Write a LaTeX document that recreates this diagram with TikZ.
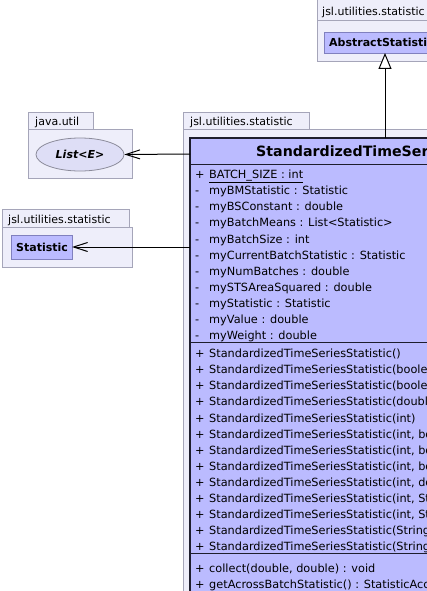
\documentclass[tikz,border=0pt]{standalone}
\usepackage{fontspec}
\setmainfont{DejaVu Sans}
\usetikzlibrary{arrows.meta,shapes.geometric}
\definecolor{pkgfill}{RGB}{238,238,250}
\definecolor{pkgline}{RGB}{165,165,185}
\definecolor{clsfill}{RGB}{187,187,255}
\definecolor{clsline}{RGB}{128,128,190}
\definecolor{ellfill}{RGB}{222,222,246}
\definecolor{ellline}{RGB}{140,140,155}
\definecolor{mainline}{RGB}{30,30,45}
\tikzset{
  pkg/.style={draw=pkgline, fill=pkgfill, line width=0.9pt},
  cls/.style={draw=clsline, fill=clsfill, line width=0.9pt},
  txt/.style={inner sep=0pt, anchor=base west, font=\fontsize{11}{13}\selectfont},
  row/.style={inner sep=0pt, anchor=base west, font=\fontsize{11.3}{13}\selectfont},
  bold/.style={txt, font=\fontsize{11}{13}\selectfont\bfseries},
  sep/.style={draw=mainline, line width=0.9pt},
  dep/.style={draw=black, line width=1pt, -{Straight Barb[length=14pt,width=9pt,line width=1pt]}},
  inh/.style={draw=black, line width=1pt, -{Triangle[length=16pt,width=13pt,fill=white,line width=1pt]}},
}
\begin{document}
\begin{tikzpicture}[x=1pt,y=-1pt]
\useasboundingbox (0,0) rectangle (427,591);
\clip (0,0) rectangle (427,591);
\fill[white] (0,0) rectangle (427,591);

% top-right package
\draw[pkg] (317,-1) rectangle (440,20);
\draw[pkg] (317,20) rectangle (440,61);
\node[txt] (tabA) at (322,16) {jsl.utilities.statistic};
\draw[cls] (324,32) rectangle (440,53);
\coordinate (absBot) at (385,53);
\node[bold] (abs) at (329,46.5) {AbstractStatistic};

% java.util package
\draw[pkg] (28,112) rectangle (93,129);
\draw[pkg] (28,129) rectangle (132,178);
\node[txt] (tabB) at (35,125) {java.util};
\node[ellipse, draw=ellline, fill=ellfill, line width=0.8pt, minimum width=88pt, minimum height=33pt, inner sep=0pt,
      font=\fontsize{11}{13}\selectfont\bfseries\itshape] (list) at (80,154.5) {List<E>};

% Statistic package
\draw[pkg] (2,209) rectangle (129,227);
\draw[pkg] (2,227) rectangle (132,267);
\node[txt] (tabC) at (8,223) {jsl.utilities.statistic};
\draw[cls] (11,235) rectangle (72,259);
\coordinate (statR) at (72,247);
\node[bold] (stat) at (16,251) {Statistic};

% main package
\draw[pkg] (183,112) rectangle (309,129);
\draw[pkg] (183,129) rectangle (450,620);
\node[txt] (tabD) at (190,125) {jsl.utilities.statistic};

% main class
\fill[clsfill] (190,138) rectangle (450,620);
\draw[mainline, line width=1.3pt] (190,620) -- (190,138) -- (450,138);
\draw[sep] (190,164) -- (450,164);
\draw[sep] (190,342.7) -- (450,342.7);
\draw[sep] (190,553.3) -- (450,553.3);
\coordinate (mainTop) at (385,138);
\coordinate (mainL1) at (190,154);
\coordinate (mainL2) at (190,247);
\node[txt, anchor=base west, font=\fontsize{14.2}{16}\selectfont\bfseries] (title) at (256,156.5) {StandardizedTimeSeriesStatistic};

% attributes
\foreach \i/\v/\t in {0/+/{\underline{BATCH\_SIZE : int}},
  1/-/{myBMStatistic : Statistic},
  2/-/{myBSConstant : double},
  3/-/{myBatchMeans : List<Statistic>},
  4/-/{myBatchSize : int},
  5/-/{myCurrentBatchStatistic : Statistic},
  6/-/{myNumBatches : double},
  7/-/{mySTSAreaSquared : double},
  8/-/{myStatistic : Statistic},
  9/-/{myValue : double},
  10/-/{myWeight : double}} {
  \node[row] (av\i) at (195,178.6+16.1*\i) {\v};
  \node[row] (at\i) at (209,178.6+16.1*\i) {\t};
}

% constructors
\foreach \i/\t in {0/{StandardizedTimeSeriesStatistic()},
  1/{StandardizedTimeSeriesStatistic(boolean)},
  2/{StandardizedTimeSeriesStatistic(boolean, boolean)},
  3/{StandardizedTimeSeriesStatistic(double)},
  4/{StandardizedTimeSeriesStatistic(int)},
  5/{StandardizedTimeSeriesStatistic(int, boolean)},
  6/{StandardizedTimeSeriesStatistic(int, boolean, boolean)},
  7/{StandardizedTimeSeriesStatistic(int, boolean, double)},
  8/{StandardizedTimeSeriesStatistic(int, double)},
  9/{StandardizedTimeSeriesStatistic(int, String)},
  10/{StandardizedTimeSeriesStatistic(int, String, boolean)},
  11/{StandardizedTimeSeriesStatistic(String)},
  12/{StandardizedTimeSeriesStatistic(String, boolean)}} {
  \node[row] (cv\i) at (195,357.8+16.06*\i) {+};
  \node[row] (ct\i) at (209,357.8+16.06*\i) {\t};
}

% methods
\node[row] (mv0) at (195,572.8) {+};
\node[row] (mt0) at (209,572.8) {collect(double, double) : void};
\node[row] (mv1) at (195,588.8) {+};
\node[row] (mt1) at (209,588.8) {getAcrossBatchStatistic() : StatisticAccessorIfc};

% connectors
\draw[inh] (mainTop) -- (absBot);
\draw[dep] (mainL1) -- (list.east);
\draw[dep] (mainL2) -- (statR);
\end{tikzpicture}
\end{document}
